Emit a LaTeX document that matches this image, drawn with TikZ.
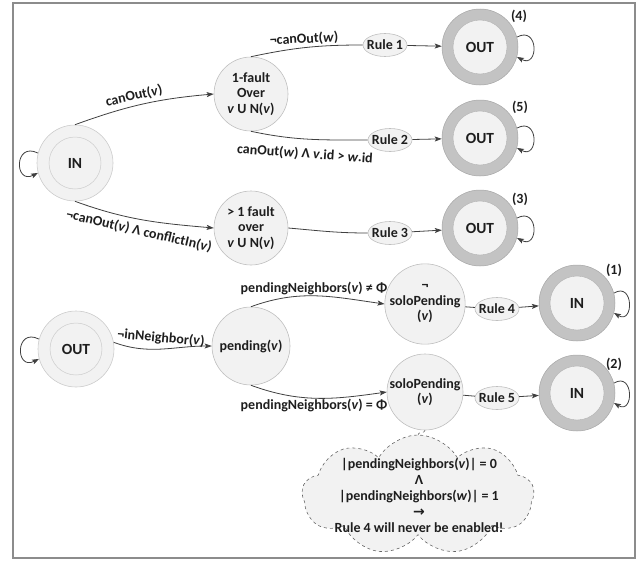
\documentclass[tikz,border=0pt]{standalone}
\usepackage{fontspec}
\setmainfont{Carlito}
\newfontfamily\symf{DejaVu Sans}
\usetikzlibrary{shapes.geometric,shapes.symbols,arrows.meta}
\definecolor{nfill}{HTML}{F2F2F2}
\definecolor{nline}{HTML}{BFBFBF}
\definecolor{ring}{HTML}{C3C3C3}
\definecolor{arrc}{HTML}{404040}
\definecolor{txt}{HTML}{1E1E1E}
\definecolor{framec}{HTML}{8C8C8C}
\begin{document}
\begin{tikzpicture}[x=1pt,y=1pt,
  font=\bfseries\fontsize{14}{15.5}\selectfont, text=txt,
  st/.style={circle, fill=nfill, draw=nline, line width=0.6pt, minimum size=74pt, inner sep=0pt, align=center},
  init/.style={circle, fill=nfill, draw=nline!80, line width=0.6pt, minimum size=76pt, inner sep=0pt},
  initin/.style={circle, fill=nfill, draw=nline!80, line width=0.5pt, minimum size=52pt, inner sep=0pt, font=\bfseries\fontsize{15.5}{17}\selectfont},
  fin/.style={circle, fill=ring, draw=ring!85!black, line width=0.5pt, minimum size=76pt, inner sep=0pt},
  finin/.style={circle, fill=nfill, draw=ring!90!black, line width=0.4pt, minimum size=54pt, inner sep=0pt, font=\bfseries\fontsize{15.5}{17}\selectfont},
  rulebox/.style={ellipse, fill=nfill, draw=nline, line width=0.6pt, minimum width=44pt, minimum height=23pt, inner sep=0pt},
  arr/.style={draw=arrc, line width=0.8pt, -{Stealth[length=7pt,width=5pt,inset=1.5pt]}},
  ln/.style={draw=arrc, line width=0.8pt},
  lbl/.style={font=\bfseries\fontsize{14}{15}\selectfont, inner sep=0pt},
  num/.style={font=\bfseries\fontsize{14}{15}\selectfont, inner sep=0pt}
]
\useasboundingbox (0,0) rectangle (639,-562);
\draw[framec, line width=1.5pt] (13,-3) rectangle (635,-558);

% ---------- top part ----------
\node[init] (IN1) at (75,-163) {};
\node[initin] (IN1i) at (75,-163) {IN};
\node[st] (F1) at (251,-94) {1-fault\\Over\\\textit{v} U N(\textit{v})};
\node[st] (F2) at (251,-228) {> 1 fault\\over\\\textit{v} U N(\textit{v})};
\node[rulebox, label=center:Rule 1] (R1) at (385,-45) {};
\node[rulebox, label=center:Rule 2] (R2) at (390,-140) {};
\node[rulebox, label=center:Rule 3] (R3) at (390,-233) {};
\node[fin] (O4) at (480,-47) {};
\node[finin] (O4i) at (480,-47) {OUT};
\node[fin] (O5) at (480,-138) {};
\node[finin] (O5i) at (480,-138) {OUT};
\node[fin] (O3) at (480,-228) {};
\node[finin] (O3i) at (480,-228) {OUT};
\node[num] (L4) at (519,-16) {(4)};
\node[num] (L5) at (520,-107) {(5)};
\node[num] (L3) at (520,-199) {(3)};

\draw[arr] (IN1.north) to[out=20,in=185] (F1.west);
\node[lbl, rotate=13] (LA) at (134,-96) {canOut(\textit{v})};
\draw[arr] (IN1.south) to[out=-20,in=175] (F2.west);
\node[lbl, rotate=-13] (LB) at (139,-231) {¬canOut(\textit{v}) Λ conflictIn(\textit{v})};
\draw[ln] (F1.north) to[out=12,in=180] (R1.west);
\node[lbl, rotate=3] (LC) at (304,-39) {¬canOut(\textit{w})};
\draw[ln] (F1.south) to[out=-12,in=180] (R2.west);
\node[lbl, rotate=-4] (LD) at (305,-154) {canOut(\textit{w}) Λ \textit{v}.id > \textit{w}.id};
\draw[ln] (F2.east) to[out=-5,in=180] (R3.west);
\draw[arr] (R1) -- (O4);
\draw[arr] (R2) -- (O5);
\draw[arr] (R3) -- (O3);
\draw[arr] (IN1.165) .. controls +(-24,12) and +(-24,-12) .. (IN1.195);
\draw[arr] (O4.15) .. controls +(22,12) and +(22,-12) .. (O4.-15);
\draw[arr] (O5.15) .. controls +(22,12) and +(22,-12) .. (O5.-15);
\draw[arr] (O3.15) .. controls +(22,12) and +(22,-12) .. (O3.-15);

% ---------- bottom part ----------
\node[init] (OL) at (76,-349) {};
\node[initin] (OLi) at (76,-349) {OUT};
\node[st, minimum size=78pt] (P) at (251,-346) {pending(\textit{v})};
\node[st, minimum size=76pt] (NS) at (425,-304) {¬\\soloPending\\(\textit{v})};
\node[st] (S) at (425,-392) {soloPending\\(\textit{v})};
\node[rulebox, label=center:Rule 4] (R4) at (497,-309) {};
\node[rulebox, label=center:Rule 5] (R5) at (497,-398) {};
\node[fin] (I1) at (577,-303) {};
\node[finin] (I1i) at (577,-303) {IN};
\node[fin] (I2) at (577,-393) {};
\node[finin] (I2i) at (577,-393) {IN};
\node[num] (L1) at (614,-270) {(1)};
\node[num] (L2) at (614,-364) {(2)};

\draw[arr] (OL.10) to[out=-20,in=180] (P.west);
\node[lbl, rotate=-5] (LE) at (161,-338) {¬inNeighbor(\textit{v})};
\draw[arr] (P.north) to[out=20,in=172] (NS.west);
\draw[arr] (P.south) to[out=-20,in=188] (S.west);
\node[lbl] (LP1) at (314,-288) {pendingNeighbors(\textit{v}) ≠ Φ};
\node[lbl] (LP2) at (314,-405) {pendingNeighbors(\textit{v}) = Φ};
\draw[ln] (NS) -- (R4);
\draw[ln] (S) -- (R5);
\draw[arr] (R4) -- (I1);
\draw[arr] (R5) -- (I2);
\draw[arr] (OL.165) .. controls +(-24,12) and +(-24,-12) .. (OL.195);
\draw[arr] (I1.15) .. controls +(20,12) and +(20,-12) .. (I1.-15);
\draw[arr] (I2.15) .. controls +(20,12) and +(20,-12) .. (I2.-15);

% ---------- cloud ----------
\node[cloud, cloud puffs=9, cloud puff arc=120, aspect=2, draw=arrc!80, dashed, line width=0.6pt,
      fill=nfill, minimum width=232pt, minimum height=120pt, inner sep=0pt] (C) at (418,-495) {};
\node[align=center, font=\bfseries\fontsize{14}{16}\selectfont, inner sep=0pt] (CT) at (419,-495)
  {|pendingNeighbors(\textit{v})| = 0\\Λ\\|pendingNeighbors(\textit{w})| = 1\\{\symf →}\\Rule 4 will never be enabled!};
\draw[draw=arrc!80, dashed, line width=0.6pt] (S.south) to[out=-90,in=90] (C.north);
\end{tikzpicture}
\end{document}
